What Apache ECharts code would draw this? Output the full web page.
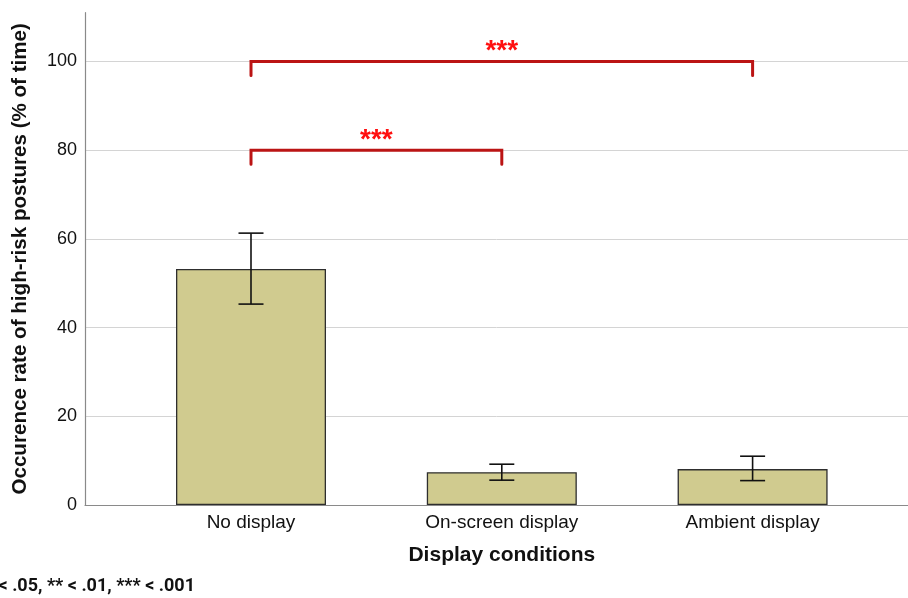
<!DOCTYPE html>
<html>
<head>
<meta charset="utf-8">
<script src="https://cdn.jsdelivr.net/npm/echarts@6/dist/echarts.min.js"></script>
<style>
  html, body { margin: 0; padding: 0; background: #fff; }
  #chart { width: 908px; height: 598px; }
</style>
</head>
<body>
<div id="chart"></div>
<script>
// Display conditions and the mean occurrence rate of high-risk postures
const categories = ['No display', 'On-screen display', 'Ambient display'];
const meanValues = [53.2, 7.4, 8.1];
// Error bar limits for each condition
const errLower = [45.3, 5.6, 5.5];
const errUpper = [61.3, 9.2, 11.0];
// Pairwise comparisons: [from index, to index, bracket height, significance]
const compFrom = [0, 0];
const compTo = [2, 1];
const compLevel = [100, 80];
const compStars = ['***', '***'];
const footnote = '* < .05, ** < .01, *** < .001';

const Y_MAX = 111;
const Y_STEP = 20;
const BAR_FONT = '"Liberation Sans", Arial, sans-serif';

const chart = echarts.init(document.getElementById('chart'));

const errData = categories.map((c, i) => [i, errLower[i], errUpper[i]]);
const compData = compFrom.map((f, i) => [f, compTo[i], compLevel[i], compStars[i]]);

chart.setOption({
  animation: false,
  backgroundColor: '#ffffff',
  grid: [
    // plot area holding the bars
    { left: 125.6, right: 30, top: 12.7, bottom: 93, containLabel: false },
    // frame with the value axis and gridlines
    { left: 85, right: 0, top: 12.7, bottom: 93, containLabel: false }
  ],
  xAxis: [
    {
      type: 'category',
      gridIndex: 0,
      data: categories,
      axisLine: { show: false },
      axisTick: { show: false },
      axisLabel: { color: '#111', fontSize: 19, fontFamily: BAR_FONT, margin: 8 },
      name: 'Display conditions',
      nameLocation: 'middle',
      nameGap: 40,
      nameTextStyle: { color: '#111', fontSize: 21, fontWeight: 'bold', fontFamily: BAR_FONT }
    },
    {
      type: 'value',
      gridIndex: 1,
      min: 0, max: 1,
      axisLine: { show: true, onZero: false, lineStyle: { color: '#8a8a8a', width: 1.2 } },
      axisTick: { show: false },
      axisLabel: { show: false },
      splitLine: { show: false }
    }
  ],
  yAxis: [
    {
      type: 'value',
      gridIndex: 0,
      min: 0, max: Y_MAX,
      show: false,
      splitLine: { show: false }
    },
    {
      type: 'value',
      gridIndex: 1,
      min: 0, max: Y_MAX, interval: Y_STEP,
      axisLine: { show: true, lineStyle: { color: '#8a8a8a', width: 1.2 } },
      axisTick: { show: false },
      axisLabel: {
        color: '#111', fontSize: 18, fontFamily: BAR_FONT, margin: 8,
        showMaxLabel: false,
        formatter: v => (v % Y_STEP === 0 ? String(v) : '')
      },
      splitLine: {
        show: true,
        lineStyle: { color: ['#d4d4d4', '#d4d4d4', '#d4d4d4', '#d4d4d4', '#d4d4d4', '#d4d4d4', 'transparent'], width: 1 }
      },
      name: 'Occurence rate of high-risk postures (% of time)',
      nameLocation: 'middle',
      nameGap: 54,
      nameTextStyle: { color: '#111', fontSize: 20.6, fontWeight: 'bold', fontFamily: BAR_FONT }
    }
  ],
  series: [
    {
      type: 'bar',
      xAxisIndex: 0,
      yAxisIndex: 0,
      data: meanValues,
      barWidth: 150,
      itemStyle: { color: '#d0cb8f', borderColor: '#2e2e2e', borderWidth: 1.3 },
      z: 2
    },
    {
      // error bars with caps
      type: 'custom',
      xAxisIndex: 0,
      yAxisIndex: 0,
      data: errData,
      encode: { x: 0, y: [1, 2] },
      z: 3,
      renderItem: function (params, api) {
        const lo = api.coord([api.value(0), api.value(1)]);
        const hi = api.coord([api.value(0), api.value(2)]);
        const half = 12.5;
        const style = { stroke: '#111', lineWidth: 1.6, fill: null };
        return {
          type: 'group',
          children: [
            { type: 'line', shape: { x1: lo[0], y1: lo[1], x2: hi[0], y2: hi[1] }, style },
            { type: 'line', shape: { x1: hi[0] - half, y1: hi[1], x2: hi[0] + half, y2: hi[1] }, style },
            { type: 'line', shape: { x1: lo[0] - half, y1: lo[1], x2: lo[0] + half, y2: lo[1] }, style }
          ]
        };
      }
    },
    {
      // significance brackets between conditions
      type: 'custom',
      xAxisIndex: 0,
      yAxisIndex: 0,
      data: compData,
      encode: { x: [0, 1], y: 2 },
      z: 4,
      renderItem: function (params, api) {
        const a = api.coord([api.value(0), api.value(2)]);
        const b = api.coord([api.value(1), api.value(2)]);
        const drop = 14;
        const stars = compData[params.dataIndex][3];
        return {
          type: 'group',
          children: [
            {
              type: 'polyline',
              shape: { points: [[a[0], a[1] + drop], [a[0], a[1]], [b[0], b[1]], [b[0], b[1] + drop]] },
              style: { stroke: '#bb1414', lineWidth: 3, fill: null, lineJoin: 'miter', lineCap: 'round' }
            },
            {
              type: 'text',
              x: (a[0] + b[0]) / 2,
              y: a[1] - 10,
              style: {
                text: stars,
                fill: '#ff1010',
                font: 'bold 28px "Liberation Sans", Arial, sans-serif',
                align: 'center',
                verticalAlign: 'middle'
              }
            }
          ]
        };
      }
    }
  ],
  graphic: [
    {
      type: 'text',
      right: 908 - 195,
      bottom: 3,
      style: {
        text: footnote,
        fill: '#111',
        font: 'bold 18px Roboto, "Liberation Sans", sans-serif'
      }
    }
  ]
});
</script>
</body>
</html>
